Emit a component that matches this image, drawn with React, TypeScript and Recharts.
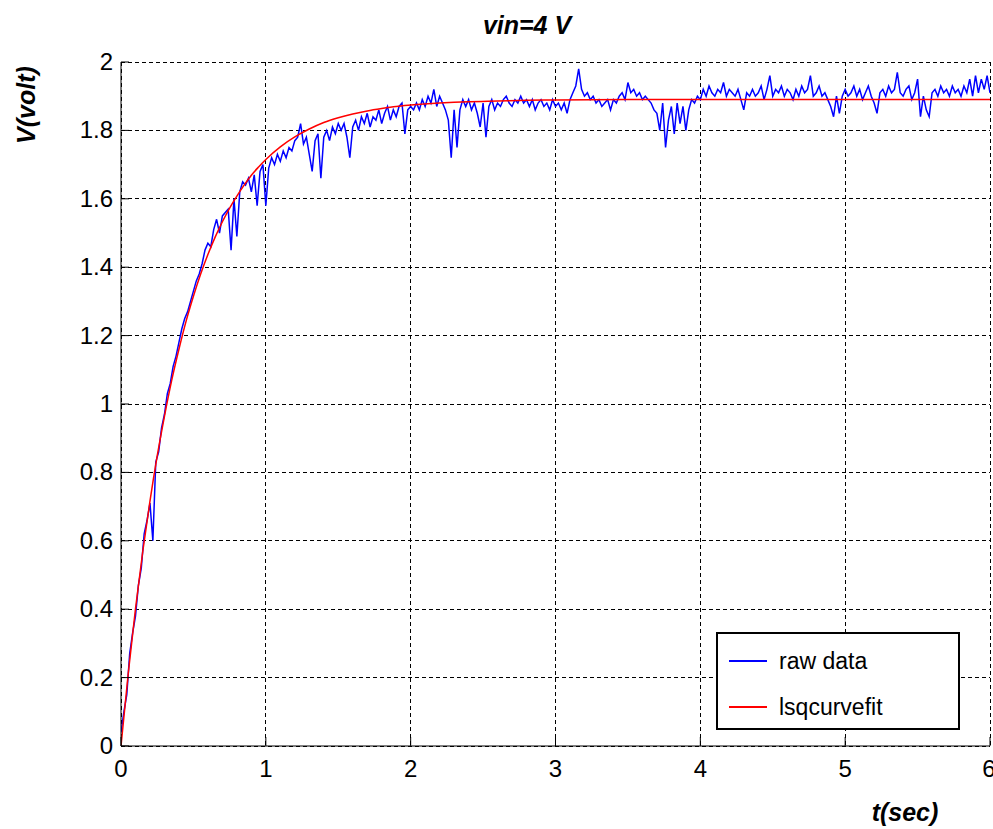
import React from 'react';
import {
  LineChart,
  Line,
  XAxis,
  YAxis,
  CartesianGrid,
  Legend,
} from 'recharts';

// sampling step of the logged voltage
const SAMPLE_DT = 0.02;

// measured output voltage, one value per sample (0 .. 6 s)
const rawVolts = [
  0.04, 0.10, 0.15, 0.27, 0.33, 0.38, 0.47, 0.52, 0.62, 0.66, // 0.0
  0.71, 0.60, 0.83, 0.86, 0.93, 0.97, 1.03, 1.06, 1.11, 1.14, // 0.2
  1.18, 1.22, 1.25, 1.27, 1.30, 1.33, 1.36, 1.38, 1.41, 1.45, // 0.4
  1.47, 1.46, 1.51, 1.54, 1.50, 1.55, 1.56, 1.57, 1.45, 1.60, // 0.6
  1.49, 1.62, 1.65, 1.64, 1.66, 1.62, 1.67, 1.58, 1.68, 1.70, // 0.8
  1.58, 1.69, 1.72, 1.70, 1.73, 1.71, 1.74, 1.72, 1.75, 1.74, // 1.0
  1.77, 1.78, 1.82, 1.76, 1.78, 1.73, 1.68, 1.77, 1.79, 1.66, // 1.2
  1.78, 1.80, 1.77, 1.81, 1.79, 1.82, 1.80, 1.82, 1.78, 1.72, // 1.4
  1.81, 1.83, 1.80, 1.84, 1.82, 1.85, 1.81, 1.84, 1.83, 1.86, // 1.6
  1.82, 1.85, 1.87, 1.83, 1.86, 1.84, 1.87, 1.88, 1.79, 1.86, // 1.8
  1.87, 1.86, 1.88, 1.86, 1.89, 1.87, 1.90, 1.88, 1.92, 1.87, // 2.0
  1.90, 1.88, 1.86, 1.83, 1.72, 1.86, 1.75, 1.86, 1.89, 1.87, // 2.2
  1.89, 1.86, 1.88, 1.85, 1.81, 1.88, 1.78, 1.87, 1.89, 1.86, // 2.4
  1.88, 1.87, 1.89, 1.90, 1.88, 1.87, 1.89, 1.88, 1.90, 1.88, // 2.6
  1.89, 1.87, 1.89, 1.86, 1.88, 1.89, 1.87, 1.88, 1.86, 1.89, // 2.8
  1.87, 1.88, 1.86, 1.88, 1.85, 1.89, 1.91, 1.93, 1.98, 1.92, // 3.0
  1.90, 1.91, 1.89, 1.90, 1.88, 1.89, 1.87, 1.88, 1.89, 1.86, // 3.2
  1.89, 1.88, 1.90, 1.91, 1.89, 1.94, 1.91, 1.92, 1.90, 1.91, // 3.4
  1.89, 1.90, 1.89, 1.88, 1.86, 1.85, 1.80, 1.88, 1.75, 1.83, // 3.6
  1.87, 1.79, 1.88, 1.82, 1.87, 1.80, 1.86, 1.89, 1.88, 1.90, // 3.8
  1.89, 1.92, 1.90, 1.93, 1.91, 1.90, 1.92, 1.91, 1.94, 1.90, // 4.0
  1.92, 1.91, 1.90, 1.92, 1.89, 1.86, 1.91, 1.90, 1.92, 1.90, // 4.2
  1.91, 1.93, 1.89, 1.92, 1.96, 1.90, 1.92, 1.91, 1.93, 1.90, // 4.4
  1.92, 1.91, 1.89, 1.92, 1.90, 1.93, 1.91, 1.92, 1.96, 1.90, // 4.6
  1.91, 1.93, 1.90, 1.91, 1.89, 1.87, 1.84, 1.90, 1.85, 1.90, // 4.8
  1.92, 1.90, 1.91, 1.93, 1.90, 1.92, 1.89, 1.91, 1.93, 1.90, // 5.0
  1.88, 1.85, 1.91, 1.92, 1.90, 1.93, 1.91, 1.92, 1.97, 1.91, // 5.2
  1.90, 1.92, 1.93, 1.89, 1.91, 1.95, 1.84, 1.90, 1.86, 1.84, // 5.4
  1.91, 1.92, 1.90, 1.93, 1.91, 1.92, 1.90, 1.93, 1.91, 1.92, // 5.6
  1.90, 1.93, 1.91, 1.95, 1.90, 1.96, 1.91, 1.95, 1.92, 1.96, // 5.8
  1.91,
];

// lsqcurvefit result, sampled along t
const fitTimes = [
  0, 0.05, 0.1, 0.15, 0.2, 0.25, 0.3, 0.35, 0.4, 0.45, 0.5,
  0.55, 0.6, 0.65, 0.7, 0.75, 0.8, 0.85, 0.9, 0.95, 1.0,
  1.1, 1.2, 1.3, 1.4, 1.5, 1.6, 1.7, 1.8, 1.9, 2.0,
  2.2, 2.4, 2.6, 2.8, 3.0, 3.5, 4.0, 4.5, 5.0, 5.5, 6.0,
];
const fitVolts = [
  0, 0.212, 0.401, 0.568, 0.716, 0.848, 0.964, 1.069, 1.16, 1.243, 1.315,
  1.38, 1.437, 1.488, 1.533, 1.573, 1.608, 1.64, 1.669, 1.693, 1.715,
  1.752, 1.781, 1.804, 1.823, 1.837, 1.848, 1.857, 1.864, 1.87, 1.874,
  1.88, 1.884, 1.886, 1.888, 1.889, 1.89, 1.89, 1.89, 1.89, 1.89, 1.89,
];

const xTicks = [0, 1, 2, 3, 4, 5, 6];
const yTicks = [0, 0.2, 0.4, 0.6, 0.8, 1, 1.2, 1.4, 1.6, 1.8, 2];
const legendOrder = ['raw data', 'lsqcurvefit'];

const rawData = rawVolts.map((v, i) => ({ t: +(i * SAMPLE_DT).toFixed(2), v }));
const fitData = fitTimes.map((t, i) => ({ t, v: fitVolts[i] }));

const FONT = '"Liberation Sans", Arial, sans-serif';

const XTick = ({ x, y, payload }: any) => (
  <text x={x} y={y} dy={18} textAnchor="middle" fontFamily={FONT} fontSize={24} fill="#000">
    {payload.value}
  </text>
);

const YTick = ({ x, y, payload }: any) => (
  <text x={x} y={y} dy={8} textAnchor="end" fontFamily={FONT} fontSize={24} fill="#000">
    {payload.value}
  </text>
);

const LegendBox = ({ payload }: any) => {
  const items = [...(payload || [])].sort(
    (a: any, b: any) => legendOrder.indexOf(a.value) - legendOrder.indexOf(b.value)
  );
  return (
    <div
      style={{
        width: 244,
        height: 98,
        boxSizing: 'border-box',
        border: '2px solid #000',
        background: '#fff',
        paddingTop: 4,
        fontFamily: FONT,
        fontSize: 23,
      }}
    >
      {items.map((entry: any) => (
        <div key={entry.value} style={{ display: 'flex', alignItems: 'center', height: 46 }}>
          <div style={{ width: 38, height: 2, background: entry.color, marginLeft: 11, marginRight: 12 }} />
          <span>{entry.value}</span>
        </div>
      ))}
    </div>
  );
};

const labelStyle: React.CSSProperties = {
  position: 'absolute',
  fontFamily: FONT,
  fontWeight: 'bold',
  fontStyle: 'italic',
  fontSize: 25,
  whiteSpace: 'nowrap',
  lineHeight: 1,
};

export default function App() {
  return (
    <div style={{ position: 'absolute', left: 0, top: 0, width: 993, height: 829, background: '#fff' }}>
      <LineChart
        width={993}
        height={829}
        margin={{ top: 62, right: 3, bottom: 0, left: 0 }}
      >
        <CartesianGrid
          xAxisId="b"
          yAxisId="l"
          stroke="#000"
          strokeWidth={1}
          strokeDasharray="4 3"
          shapeRendering="crispEdges"
        />
        <XAxis
          xAxisId="b"
          type="number"
          dataKey="t"
          domain={[0, 6]}
          ticks={xTicks}
          allowDataOverflow
          height={83}
          stroke="#000"
          tickSize={-9}
          tickMargin={22}
          tick={<XTick />}
        />
        <XAxis
          xAxisId="top"
          orientation="top"
          type="number"
          dataKey="t"
          domain={[0, 6]}
          ticks={xTicks}
          height={0}
          stroke="#000"
          tickSize={-9}
          tick={false}
        />
        <YAxis
          yAxisId="l"
          type="number"
          domain={[0, 2]}
          ticks={yTicks}
          allowDataOverflow
          width={121}
          stroke="#000"
          tickSize={-8}
          tickMargin={16}
          tick={<YTick />}
        />
        <YAxis
          yAxisId="r"
          orientation="right"
          type="number"
          domain={[0, 2]}
          ticks={yTicks}
          width={0}
          stroke="#000"
          tickSize={-8}
          tick={false}
        />
        <Legend
          layout="vertical"
          align="center"
          verticalAlign="middle"
          wrapperStyle={{ left: 716, top: 632, width: 244, height: 98 }}
          content={<LegendBox />}
        />
        <Line
          xAxisId="b"
          yAxisId="l"
          data={rawData}
          dataKey="v"
          name="raw data"
          type="linear"
          stroke="#0000ff"
          strokeWidth={1.5}
          dot={false}
          isAnimationActive={false}
        />
        <Line
          xAxisId="b"
          yAxisId="l"
          data={fitData}
          dataKey="v"
          name="lsqcurvefit"
          type="monotone"
          stroke="#ff0000"
          strokeWidth={1.5}
          dot={false}
          isAnimationActive={false}
        />
      </LineChart>
      <div style={{ ...labelStyle, left: 527, top: 25, transform: 'translate(-50%, -50%)' }}>vin=4 V</div>
      <div style={{ ...labelStyle, left: 26, top: 105, transform: 'translate(-50%, -50%) rotate(-90deg)' }}>V(volt)</div>
      <div style={{ ...labelStyle, left: 905, top: 812, transform: 'translate(-50%, -50%)' }}>t(sec)</div>
    </div>
  );
}
